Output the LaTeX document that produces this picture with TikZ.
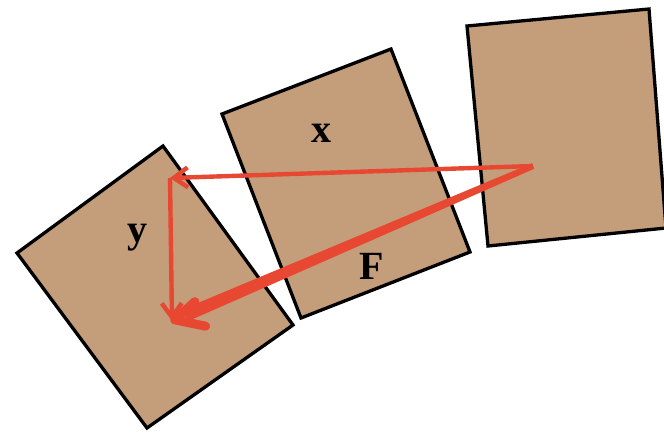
\documentclass[tikz,border=0pt]{standalone}
\usepackage{fontspec}
\setmainfont{Liberation Serif}
\usetikzlibrary{arrows.meta,calc}
\definecolor{boxfill}{RGB}{196,157,122}
\definecolor{arrowred}{RGB}{232,72,50}
\tikzset{
  slab/.style={draw=black, line width=3.3pt, fill=boxfill, line join=miter},
  lbl/.style={font=\bfseries\fontsize{40}{40}\selectfont, inner sep=0pt},
  thinarrow/.style={draw=arrowred, line width=4.4pt, -{Straight Barb[length=14pt,width=20pt,line width=4.4pt]}},
}
\begin{document}
\begin{tikzpicture}[x=1pt,y=-1pt]
\useasboundingbox (0,0) rectangle (664,434);
% boxes
\draw[slab] (163,146) -- (293,325) -- (147,428) -- (17,253) -- cycle;
\draw[slab] (222,114) -- (391,49) -- (470,252) -- (301,318) -- cycle;
\draw[slab] (467,26) -- (649,9) -- (666,228) -- (488,246) -- cycle;
% labels
\node[lbl] (lx) at (321,133) {x};
\node[lbl] (ly) at (137,238) {y};
\node[lbl] (lF) at (372,266) {F};
% vectors
\coordinate (O) at (533,166);
\coordinate (A) at (170,178);
\coordinate (B) at (172,321);
\draw[thinarrow] (O) -- (A);
\draw[thinarrow] (A) -- (B);
\coordinate (Bn) at ($(B)!14pt!(O)$);
\fill[arrowred] ($(O)!3pt!90:(B)$) -- ($(O)!3pt!-90:(B)$) -- ($(Bn)!6.5pt!90:(O)$) -- ($(Bn)!6.5pt!-90:(O)$) -- cycle;
\draw[arrowred, line width=9pt, line cap=round, line join=round] ($(B)!30pt!17:(O)$) -- ($(B)!3pt!(O)$) -- ($(B)!34pt!-32:(O)$);
\end{tikzpicture}
\end{document}
